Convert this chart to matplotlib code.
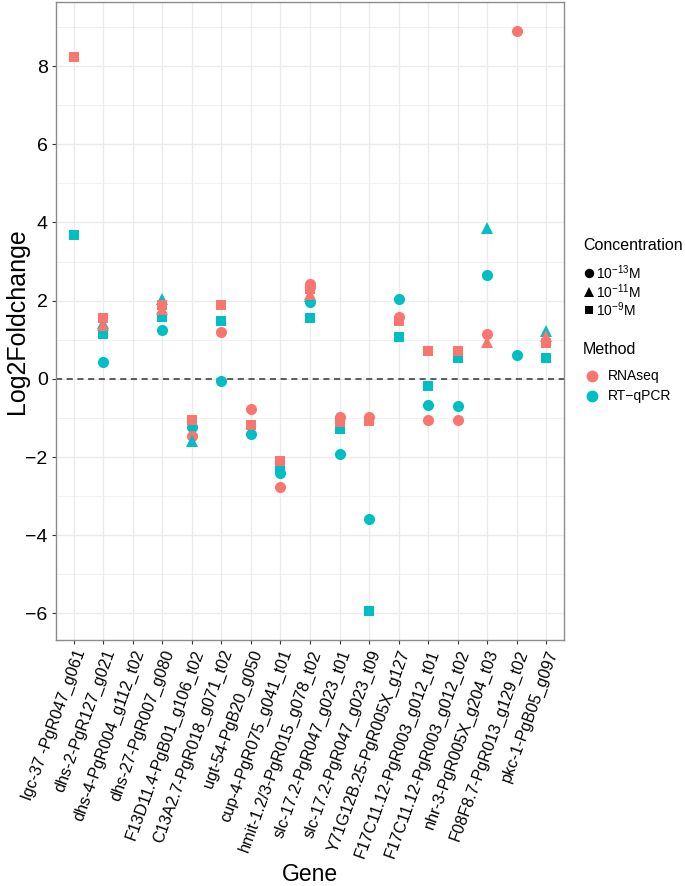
import matplotlib
matplotlib.use('agg')
import matplotlib.pyplot as plt

plt.rcParams['font.family'] = ['Liberation Sans', 'DejaVu Sans']
plt.rcParams['mathtext.fontset'] = 'custom'
plt.rcParams['mathtext.rm'] = 'Liberation Sans'
plt.rcParams['mathtext.it'] = 'Liberation Sans'

genes = ['lgc-37 -PgR047_g061', 'dhs-2-PgR127_g021', 'dhs-4-PgR004_g112_t02',
         'dhs-27-PgR007_g080', 'F13D11.4-PgB01_g106_t02', 'C13A2.7-PgR018_g071_t02',
         'ugt-54-PgB20_g050', 'cup-4-PgR075_g041_t01', 'hmit-1.2/3-PgR015_g078_t02',
         'slc-17.2-PgR047_g023_t01', 'slc-17.2-PgR047_g023_t09', 'Y71G12B.25-PgR005X_g127',
         'F17C11.12-PgR003_g012_t01', 'F17C11.12-PgR003_g012_t02', 'nhr-3-PgR005X_g204_t03',
         'F08F8.7-PgR013_g129_t02', 'pkc-1-PgB05_g097']

# one entry per point, drawn in this order
point_gene = [0, 0,
              1, 1, 1, 1, 1,
              3, 3, 3, 3, 3,
              4, 4, 4, 4,
              5, 5, 5, 5,
              6, 6, 6,
              7, 7, 7, 7,
              8, 8, 8, 8, 8, 8, 8,
              9, 9, 9, 9,
              10, 10, 10, 10,
              11, 11, 11, 11,
              12, 12, 12, 12,
              13, 13, 13, 13,
              14, 14, 14, 14,
              15, 15,
              16, 16, 16, 16]
point_method = ['RNAseq', 'RT-qPCR',
                'RT-qPCR', 'RT-qPCR', 'RT-qPCR', 'RNAseq', 'RNAseq',
                'RT-qPCR', 'RT-qPCR', 'RNAseq', 'RT-qPCR', 'RNAseq',
                'RT-qPCR', 'RNAseq', 'RNAseq', 'RT-qPCR',
                'RNAseq', 'RT-qPCR', 'RNAseq', 'RT-qPCR',
                'RNAseq', 'RT-qPCR', 'RNAseq',
                'RT-qPCR', 'RT-qPCR', 'RNAseq', 'RNAseq',
                'RT-qPCR', 'RT-qPCR', 'RT-qPCR', 'RNAseq', 'RNAseq', 'RNAseq', 'RNAseq',
                'RT-qPCR', 'RT-qPCR', 'RNAseq', 'RNAseq',
                'RT-qPCR', 'RT-qPCR', 'RNAseq', 'RNAseq',
                'RT-qPCR', 'RNAseq', 'RNAseq', 'RT-qPCR',
                'RNAseq', 'RT-qPCR', 'RT-qPCR', 'RNAseq',
                'RT-qPCR', 'RNAseq', 'RT-qPCR', 'RNAseq',
                'RT-qPCR', 'RT-qPCR', 'RNAseq', 'RNAseq',
                'RNAseq', 'RT-qPCR',
                'RT-qPCR', 'RT-qPCR', 'RNAseq', 'RNAseq']
point_conc = ['1e-9', '1e-9',
              '1e-13', '1e-9', '1e-11', '1e-11', '1e-9',
              '1e-13', '1e-9', '1e-11', '1e-11', '1e-9',
              '1e-13', '1e-9', '1e-13', '1e-11',
              '1e-9', '1e-9', '1e-13', '1e-13',
              '1e-13', '1e-13', '1e-9',
              '1e-13', '1e-9', '1e-9', '1e-13',
              '1e-9', '1e-13', '1e-11', '1e-11', '1e-9', '1e-13', '1e-13',
              '1e-13', '1e-9', '1e-9', '1e-13',
              '1e-9', '1e-13', '1e-9', '1e-13',
              '1e-9', '1e-9', '1e-13', '1e-13',
              '1e-9', '1e-9', '1e-13', '1e-13',
              '1e-9', '1e-9', '1e-13', '1e-13',
              '1e-11', '1e-13', '1e-13', '1e-11',
              '1e-13', '1e-13',
              '1e-9', '1e-11', '1e-9', '1e-11']
point_value = [8.24, 3.69,
               0.43, 1.15, 1.42, 1.38, 1.56,
               1.25, 1.58, 1.78, 2.05, 1.88,
               -1.22, -1.04, -1.47, -1.60,
               1.90, 1.48, 1.19, -0.05,
               -0.77, -1.41, -1.19,
               -2.42, -2.30, -2.11, -2.76,
               1.55, 1.97, 2.12, 2.17, 2.30, 2.36, 2.42,
               -1.93, -1.29, -1.10, -0.97,
               -5.93, -3.58, -1.08, -0.97,
               1.08, 1.47, 1.59, 2.04,
               0.71, -0.19, -0.67, -1.05,
               0.54, 0.70, -0.69, -1.05,
               3.85, 2.65, 1.16, 0.95,
               8.90, 0.62,
               0.54, 1.22, 0.92, 1.10]

conc_order = ['1e-13', '1e-11', '1e-9']
conc_labels = [r'$10^{-13}$M', r'$10^{-11}$M', r'$10^{-9}$M']
method_order = ['RNAseq', 'RT-qPCR']
method_labels = ['RNAseq', 'RT\u2212qPCR']

colors = {'RNAseq': '#F8766D', 'RT-qPCR': '#00BFC4'}
markers = {'1e-13': 'o', '1e-11': '^', '1e-9': 's'}
msizes = {'1e-13': 8.0, '1e-11': 8.6, '1e-9': 7.6}

W, H = 685, 886
fig = plt.figure(figsize=(W / 100, H / 100), dpi=100)
ax = fig.add_axes([56 / W, 1 - 640 / H, (564 - 56) / W, (640 - 2) / H])

ax.axhline(0, color='#333333', linestyle=(0, (4, 3)), linewidth=1.1, zorder=2)
for g, m, c, v in zip(point_gene, point_method, point_conc, point_value):
    ax.plot(g, v, linestyle='none', marker=markers[c], markersize=msizes[c],
            markerfacecolor=colors[m], markeredgewidth=0, zorder=3)

ax.set_xlim(-0.6, len(genes) - 0.4)
ax.set_ylim(-6.68, 9.64)
ax.set_yticks([-6, -4, -2, 0, 2, 4, 6, 8])
ax.set_yticks([-5, -3, -1, 1, 3, 5, 7, 9], minor=True)
ax.set_xticks(range(len(genes)))
ax.set_xticklabels(genes, rotation=70, ha='right', va='top', rotation_mode='anchor', fontsize=11.7)
ax.tick_params(axis='y', labelsize=14, length=3, color='#333333', labelcolor='black', pad=3)
ax.tick_params(axis='x', length=3, color='#333333', labelcolor='black', pad=2.5)
ax.tick_params(axis='y', which='minor', length=0)
ax.grid(True, which='major', color='#EBEBEB', linewidth=1.0, zorder=0)
ax.grid(True, which='minor', axis='y', color='#EBEBEB', linewidth=0.5, zorder=0)
ax.set_axisbelow(True)
for s in ax.spines.values():
    s.set_color('#8c8c8c')
    s.set_linewidth(1.0)

fig.text(310 / W, 1 - 881 / H, 'Gene', ha='center', va='baseline', fontsize=16.5)
fig.text(17 / W, 1 - 321 / H, 'Log2Foldchange', ha='center', va='center', rotation=90, fontsize=18)

# legends drawn on an overlay in pixel coordinates
lg = fig.add_axes([0, 0, 1, 1], facecolor='none')
lg.set_xlim(0, W)
lg.set_ylim(H, 0)
lg.axis('off')

lg.text(583, 245, 'Concentration', ha='left', va='center', fontsize=11.5)
for i, (c, lab) in enumerate(zip(conc_order, conc_labels)):
    y = 273 + i * 18.5
    lg.plot(589, y, linestyle='none', marker=markers[c], markersize=msizes[c] * 0.85,
            markerfacecolor='black', markeredgewidth=0)
    lg.text(596, y, lab, ha='left', va='center', fontsize=10)

lg.text(583, 349, 'Method', ha='left', va='center', fontsize=11.5)
for i, (m, lab) in enumerate(zip(method_order, method_labels)):
    y = 376 + i * 20
    lg.plot(592, y, linestyle='none', marker='o', markersize=8.5,
            markerfacecolor=colors[m], markeredgewidth=0)
    lg.text(608, y, lab, ha='left', va='center', fontsize=10)

fig.savefig('out.png', dpi=100)
